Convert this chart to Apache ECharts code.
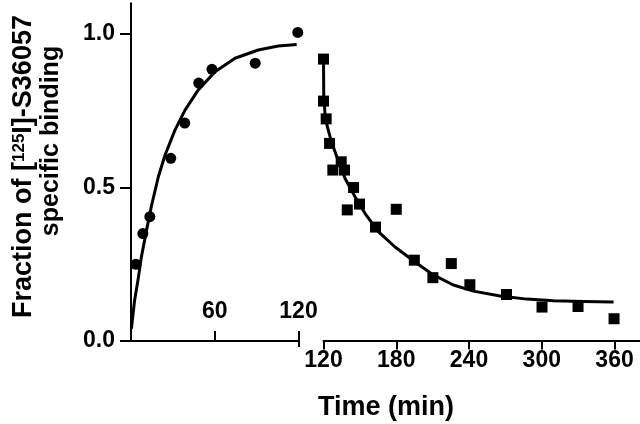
<!DOCTYPE html>
<html><head><meta charset="utf-8">
<script src="https://cdn.jsdelivr.net/npm/echarts@6/dist/echarts.min.js"></script>
<style>html,body{margin:0;padding:0;background:#fff}#c{width:640px;height:424px}</style>
</head><body><div id="c"></div>
<script>
// Association phase (circles)
const assocTime  = [3.5, 8.5, 13.5, 28.5, 38.5, 48.5, 58, 89, 119.5];
const assocValue = [0.25, 0.35, 0.405, 0.595, 0.71, 0.84, 0.885, 0.905, 1.005];
// Association fitted curve
const assocFitTime  = [0.3, 2.5, 5.2, 7.5, 10, 12.5, 14.8, 19.6, 24.4, 31.5, 38.7, 48.2, 60.2, 74.5, 91.2, 105.5, 118.7];
const assocFitValue = [0.04, 0.13, 0.204, 0.275, 0.334, 0.392, 0.443, 0.535, 0.606, 0.687, 0.752, 0.818, 0.877, 0.921, 0.948, 0.961, 0.966];
// Dissociation phase (squares)
const dissocTime  = [120, 120, 122.2, 125, 127.7, 134.6, 137.3, 139.6, 144.8, 149.7, 162.9, 180, 194.9, 210.2, 225.4, 240.7, 270.9, 300.2, 329.9, 359.6];
const dissocValue = [0.918, 0.781, 0.723, 0.643, 0.556, 0.583, 0.556, 0.426, 0.499, 0.445, 0.370, 0.428, 0.262, 0.205, 0.251, 0.182, 0.150, 0.109, 0.111, 0.071];
// Dissociation fitted curve
const dissocFitTime  = [120, 120.2, 121.2, 123, 125.4, 128, 130.9, 137.7, 146, 154.2, 165.2, 179, 196.9, 210.6, 227.1, 243.6, 265.7, 287.7, 309.7, 334.4, 359.2];
const dissocFitValue = [0.918, 0.80, 0.741, 0.70, 0.665, 0.632, 0.600, 0.529, 0.469, 0.415, 0.355, 0.305, 0.252, 0.214, 0.181, 0.161, 0.145, 0.135, 0.130, 0.127, 0.126];
// Tick labels
const yTicks = [0, 0.5, 1.0];
const leftXTicks = [60, 120];
const rightXTicks = [120, 180, 240, 300, 360];

const FF = '"Liberation Sans", Arial, sans-serif';
const zip = (a, b) => a.map((v, i) => [v, b[i]]);

const chart = echarts.init(document.getElementById('c'));
chart.setOption({
  animation: false,
  backgroundColor: '#fff',
  grid: [
    {left: 131, top: 3.3, width: 167.5, height: 337.7, outerBoundsMode: 'none', containLabel: false},
    {left: 323.5, top: 3.3, width: 316.5, height: 337.2, outerBoundsMode: 'none', containLabel: false}
  ],
  xAxis: [
    {type: 'value', gridIndex: 0, min: 0, max: 120,
      axisLine: {show: true, onZero: false, lineStyle: {color: '#000', width: 2}},
      axisTick: {show: true, inside: true, length: 10, customValues: leftXTicks, lineStyle: {color: '#000', width: 2}},
      axisLabel: {show: true, inside: true, margin: 18, customValues: leftXTicks, color: '#000', fontFamily: FF, fontWeight: 'bold', fontSize: 23},
      splitLine: {show: false}},
    {type: 'value', gridIndex: 0, min: 0, max: 120, position: 'bottom',
      axisLine: {show: false},
      axisTick: {show: true, inside: false, length: 6, customValues: [120], lineStyle: {color: '#000', width: 2}},
      axisLabel: {show: false}, splitLine: {show: false}},
    {type: 'value', gridIndex: 1, min: 120, max: 381,
      axisLine: {show: true, onZero: false, lineStyle: {color: '#000', width: 2}},
      axisTick: {show: true, inside: false, length: 9, customValues: rightXTicks, lineStyle: {color: '#000', width: 2}},
      axisLabel: {show: true, margin: 9, customValues: rightXTicks, color: '#000', fontFamily: FF, fontWeight: 'bold', fontSize: 23},
      splitLine: {show: false}}
  ],
  yAxis: [
    {type: 'value', gridIndex: 0, min: 0, max: 1.1,
      axisLine: {show: true, onZero: false, lineStyle: {color: '#000', width: 2}},
      axisTick: {show: true, inside: false, length: 11, customValues: yTicks, lineStyle: {color: '#000', width: 2}},
      axisLabel: {show: true, margin: 16, customValues: yTicks, formatter: v => v.toFixed(1), color: '#000', fontFamily: FF, fontWeight: 'bold', fontSize: 23},
      splitLine: {show: false}},
    {type: 'value', gridIndex: 1, min: 0, max: 1.1, show: false}
  ],
  series: [
    {type: 'line', xAxisIndex: 0, yAxisIndex: 0, data: zip(assocFitTime, assocFitValue), smooth: false, clip: false,
      showSymbol: false, symbol: 'none', lineStyle: {color: '#000', width: 3, join: 'round'}, z: 2},
    {type: 'scatter', xAxisIndex: 0, yAxisIndex: 0, data: zip(assocTime, assocValue), symbol: 'circle', symbolSize: 11, clip: false,
      itemStyle: {color: '#000', opacity: 1}, z: 3},
    {type: 'line', xAxisIndex: 2, yAxisIndex: 1, data: zip(dissocFitTime, dissocFitValue), smooth: false, clip: false,
      showSymbol: false, symbol: 'none', lineStyle: {color: '#000', width: 3, join: 'round'}, z: 2},
    {type: 'scatter', xAxisIndex: 2, yAxisIndex: 1, data: zip(dissocTime, dissocValue), symbol: 'rect', symbolSize: 11, clip: false,
      itemStyle: {color: '#000', opacity: 1}, z: 3}
  ],
  graphic: [
    {type: 'text', x: 386, y: 408, style: {text: 'Time (min)', fontFamily: FF, fontWeight: 'bold', fontSize: 27,
      fill: '#000', align: 'center', verticalAlign: 'middle'}},
    {type: 'text', x: 24, y: 318, rotation: Math.PI / 2, style: {text: 'Fraction of [{sup|125}I]-S36057',
      fontFamily: FF, fontWeight: 'bold', fontSize: 27, fill: '#000', align: 'left', verticalAlign: 'middle',
      rich: {sup: {fontFamily: FF, fontWeight: 'bold', fontSize: 17, fill: '#000', verticalAlign: 'top'}}}},
    {type: 'text', x: 51, y: 141, rotation: Math.PI / 2, style: {text: 'specific binding',
      fontFamily: FF, fontWeight: 'bold', fontSize: 25, fill: '#000', align: 'center', verticalAlign: 'middle'}}
  ]
});
</script>
</body></html>
